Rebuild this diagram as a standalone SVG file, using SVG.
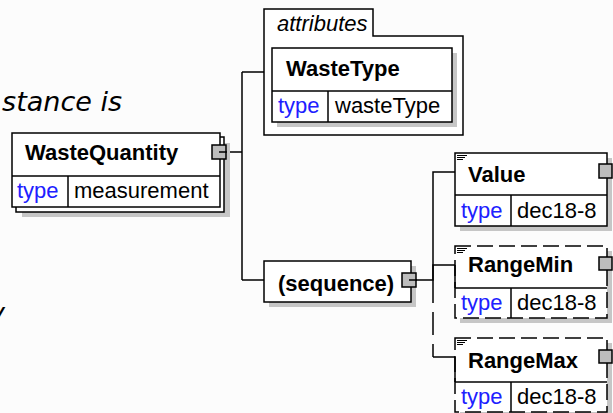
<svg xmlns="http://www.w3.org/2000/svg" width="613" height="413" viewBox="0 0 613 413">
<style>
.bg{fill:#fcfcfc}
.box{fill:#fff;stroke:#000;stroke-width:1.5}
.opt{fill:#fff;stroke:#000;stroke-width:1.5;stroke-dasharray:16 6}
.sh{fill:#c6c6c6}
.ln{fill:none;stroke:#000;stroke-width:1.5}
.dash{fill:none;stroke:#000;stroke-width:1.5;stroke-dasharray:23 9}
.sq{fill:#bdbdbd;stroke:#000;stroke-width:1.5}
.name{font-family:"Liberation Sans",Arial,sans-serif;font-weight:bold;font-size:22px;fill:#000}
.kw{font-family:"Liberation Sans",Arial,sans-serif;font-size:22px;fill:#2020ff}
.val{font-family:"Liberation Sans",Arial,sans-serif;font-size:22px;fill:#000}
.it{font-family:"Liberation Sans",Arial,sans-serif;font-style:italic;font-size:22px;fill:#000}
.side{font-family:"DejaVu Sans",Verdana,sans-serif;font-style:italic;font-size:27px;fill:#000}
.ic{stroke:#000;stroke-width:1}
</style>
<rect class="bg" x="0" y="0" width="613" height="413"/>
<text class="side" x="122" y="111" text-anchor="end">stance is</text>
<text class="side" x="5" y="322" text-anchor="end">y</text>

<g id="connectors">
<path class="ln" d="M219,152 H242 M242,72 V280 M242,72 H264 M242,280 H264"/>
<path class="ln" d="M409,280 H433 V172 H455"/>
<path class="ln" d="M433,280 V265 H455"/>
<path class="dash" d="M433,280 V357"/>
<path class="ln" d="M433,357 H455"/>
</g>

<g id="WasteQuantity">
<rect class="sh" x="22" y="143" width="208" height="74"/>
<rect class="box" x="16" y="137" width="208" height="75"/>
<rect class="box" x="12" y="133" width="208" height="74"/>
<line class="ln" x1="12" y1="176" x2="220" y2="176"/>
<line class="ln" x1="68" y1="176" x2="68" y2="207"/>
<text class="name" x="25" y="160">WasteQuantity</text>
<text class="kw" x="17" y="198">type</text>
<text class="val" x="74" y="198">measurement</text>
<rect class="sq" x="212" y="145" width="14" height="14"/>
<line class="ln" x1="219" y1="152" x2="227" y2="152"/>
</g>

<g id="attributes">
<path class="ln" d="M264,135 V9 H373 V36 H463 V135 Z" style="fill:#fff"/>
<text class="it" x="277" y="31">attributes</text>
</g>

<g id="WasteType">
<rect class="sh" x="277" y="53" width="180" height="74"/>
<rect class="box" x="272" y="48" width="180" height="74"/>
<line class="ln" x1="272" y1="91" x2="452" y2="91"/>
<line class="ln" x1="328" y1="91" x2="328" y2="122"/>
<text class="name" x="286" y="76">WasteType</text>
<text class="kw" x="278" y="113">type</text>
<text class="val" x="335" y="113">wasteType</text>
</g>

<g id="sequence">
<rect class="sh" x="269" y="266" width="147" height="41"/>
<rect class="box" x="264" y="261" width="147" height="41"/>
<text class="name" x="278" y="291">(sequence)</text>
<rect class="sq" x="402" y="273" width="14" height="14"/>
<line class="ln" x1="409" y1="280" x2="417" y2="280"/>
</g>

<g id="Value">
<rect class="sh" x="460" y="158" width="152" height="73"/>
<rect class="box" x="455" y="153" width="152" height="73"/>
<line class="ln" x1="455" y1="195" x2="607" y2="195"/>
<line class="ln" x1="511" y1="195" x2="511" y2="226"/>
<path class="ic" d="M457,155.5 H467 M457,157.5 H465 M457,159.5 H463"/>
<text class="name" x="468" y="182">Value</text>
<text class="kw" x="461" y="218">type</text>
<text class="val" x="517" y="218">dec18-8</text>
<rect class="sq" x="599" y="164" width="13" height="14"/>
</g>

<g id="RangeMin">
<rect class="sh" x="460" y="251" width="152" height="72"/>
<rect class="opt" x="455" y="246" width="152" height="72"/>
<line class="ln" x1="455" y1="265" x2="455" y2="288"/>
<line class="ln" x1="455" y1="288" x2="607" y2="288"/>
<line class="ln" x1="511" y1="288" x2="511" y2="318"/>
<path class="ic" d="M457,248.5 H467 M457,250.5 H465 M457,252.5 H463"/>
<text class="name" x="468" y="272">RangeMin</text>
<text class="kw" x="461" y="310">type</text>
<text class="val" x="517" y="310">dec18-8</text>
<rect class="sq" x="599" y="257" width="13" height="13"/>
</g>

<g id="RangeMax">
<rect class="sh" x="460" y="343" width="152" height="73"/>
<rect class="opt" x="455" y="338" width="152" height="74"/>
<line class="ln" x1="455" y1="357" x2="455" y2="382"/>
<line class="ln" x1="455" y1="382" x2="607" y2="382"/>
<line class="ln" x1="511" y1="382" x2="511" y2="412"/>
<path class="ic" d="M457,340.5 H467 M457,342.5 H465 M457,344.5 H463"/>
<text class="name" x="468" y="368">RangeMax</text>
<text class="kw" x="461" y="404">type</text>
<text class="val" x="517" y="404">dec18-8</text>
<rect class="sq" x="599" y="350" width="13" height="13"/>
</g>
</svg>
